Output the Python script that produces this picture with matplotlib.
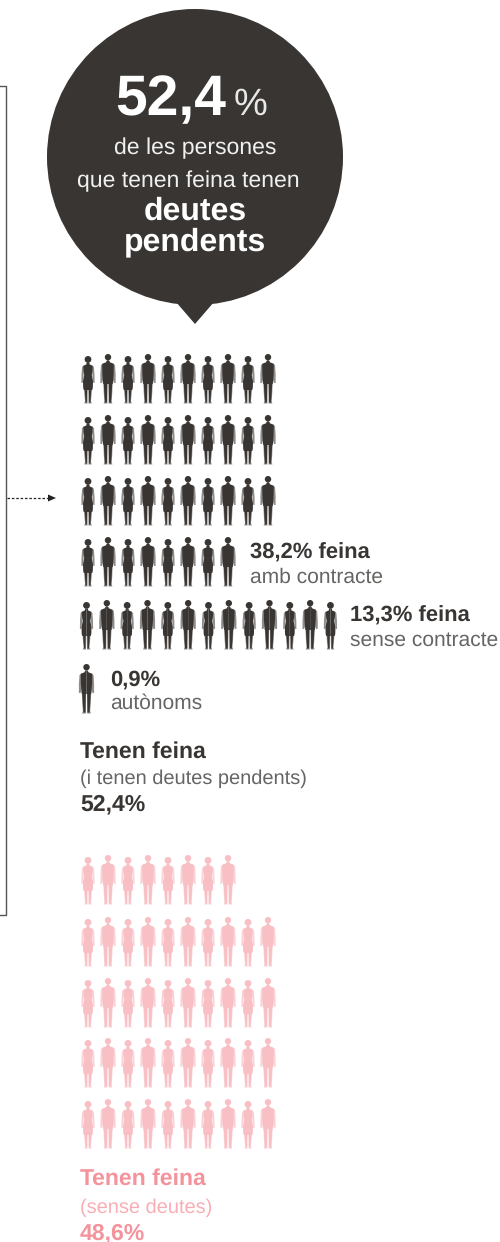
import numpy as np
import matplotlib
matplotlib.use('Agg')
import matplotlib.pyplot as plt
from matplotlib.patches import Circle, Polygon

plt.rcParams['font.family'] = ['Liberation Sans', 'DejaVu Sans']
plt.rcParams['text.hinting'] = 'no_hinting'
plt.rcParams['text.hinting_factor'] = 1

# people per row (1 figure = 1 %, roughly)
dark_rows = [10, 10, 10, 8]
sense_contracte = 13
autonoms = 1
pink_rows = [8, 10, 10, 10, 10]

dark = '#383532'
mid = '#8f8c8a'
grey = '#676563'
pink = '#f8bfc4'
pink_mid = '#fbd3d7'
pink_bold = '#f4939c'
pink_light = '#f9aeb5'

# half outlines (dx, dy from the top of the row), mirrored when drawn
man_body = [(0, 6), (1.6, 7), (1.8, 8.2), (5.8, 9.8), (5.6, 20), (5, 28), (4.6, 30), (0, 30)]
man_arm = [(5, 9.6), (7, 11), (7.6, 20), (7.6, 29), (6, 29), (5, 26)]
man_leg = [(0.4, 28), (4.7, 28), (4.2, 40), (3.6, 47), (4.4, 49.5), (0.6, 49.5)]
man_leg_core = [(0.8, 28), (4.3, 28), (3.6, 40), (3, 48.5), (1.1, 48.5)]
woman_body = [(0, 8), (1.5, 9), (1.6, 10.4), (4.8, 11.8), (4.4, 17), (3.8, 21), (5, 27), (4.8, 34), (4.2, 36), (0, 36)]
woman_arm = [(4.4, 11.6), (5.9, 13), (6.5, 21), (6.6, 29), (5.3, 29), (4.8, 25), (4, 17)]
woman_leg = [(0.3, 34), (4, 34), (3.5, 42), (2.9, 47), (3.8, 49.5), (0.5, 49.5)]
woman_leg_core = [(0.9, 34), (3.4, 34), (2.8, 42), (2.4, 48.5), (1.1, 48.5)]


def shape(ax, pts, x, top, col):
    ax.add_patch(Polygon([(x + dx, top + dy) for dx, dy in pts], fc=col, ec='none'))
    ax.add_patch(Polygon([(x - dx, top + dy) for dx, dy in pts], fc=col, ec='none'))


def person(ax, x, top, woman, col, col2):
    if woman:
        shape(ax, woman_arm, x, top, col2)
        shape(ax, woman_leg, x, top, col2)
        shape(ax, woman_leg_core, x, top, col)
        shape(ax, woman_body, x, top, col)
        ax.add_patch(Circle((x, top + 5.4), 3.4, fc=col, ec='none'))
    else:
        shape(ax, man_arm, x, top, col2)
        shape(ax, man_leg, x, top, col2)
        shape(ax, man_leg_core, x, top, col)
        shape(ax, man_body, x, top, col)
        ax.add_patch(Circle((x, top + 3.2), 3.2, fc=col, ec='none'))


def row(ax, n, x0, step, top, col, col2, start_man=False):
    for i in range(n):
        person(ax, x0 + i * step, top, (i % 2 == 0) != start_man, col, col2)


fig = plt.figure(figsize=(5, 12.42), dpi=100)
ax = fig.add_axes([0, 0, 1, 1])
ax.set_xlim(0, 500)
ax.set_ylim(1242, 0)
ax.axis('off')

# bubble
ax.add_patch(Circle((195, 157), 148, fc=dark, ec='none'))
ax.add_patch(Polygon([(176, 302), (214, 302), (195, 324)], fc=dark, ec='none'))

ax.text(115, 115, '52,4', color='white', fontsize=41, fontweight='bold', va='baseline')
ax.text(234, 115, '%', color='#e8e8e8', fontsize=27, va='baseline')
ax.text(195, 154, 'de les persones', color='#f0f0f0', fontsize=16.3, ha='center', va='baseline')
ax.text(188, 187, 'que tenen feina tenen', color='#f0f0f0', fontsize=16.3, ha='center', va='baseline')
ax.text(195, 220, 'deutes', color='white', fontsize=22.7, fontweight='bold', ha='center', va='baseline')
ax.text(195, 250, 'pendents', color='white', fontsize=22.7, fontweight='bold', ha='center', va='baseline')

# bracket on the left
ax.plot([0, 5.5, 5.5, 0], [85.5, 85.5, 914.5, 914.5], color='#555555', lw=1)

# dotted arrow
ax.plot([7, 48], [498, 498], color='#222222', lw=0.9, ls=(0, (2, 1.5)))
ax.add_patch(Polygon([(48, 494.5), (56, 498), (48, 501.5)], fc='#222222', ec='none'))

# dark people
for n, top in zip(dark_rows, [354, 415, 476, 537]):
    row(ax, n, 88, 20, top, dark, mid)
row(ax, sense_contracte, 86.5, 20.33, 600, dark, mid)
row(ax, autonoms, 86.5, 20, 664, dark, mid, start_man=True)

# pink people
for n, top in zip(pink_rows, [855, 917, 978, 1038, 1099]):
    row(ax, n, 88, 20, top, pink, pink_mid)

# labels
ax.text(250, 559, '38,2% feina', color=dark, fontsize=15.6, fontweight='bold', va='baseline')
ax.text(250, 583, 'amb contracte', color=grey, fontsize=15.2, va='baseline')
ax.text(350, 622, '13,3% feina', color=dark, fontsize=15.6, fontweight='bold', va='baseline')
ax.text(350, 646, 'sense contracte', color=grey, fontsize=15.1, va='baseline')
ax.text(110, 686, '0,9%', color=dark, fontsize=15.6, fontweight='bold', va='baseline')
ax.text(110, 709, 'autònoms', color=grey, fontsize=15.2, va='baseline')

ax.text(80, 758, 'Tenen feina', color=dark, fontsize=16.3, fontweight='bold', va='baseline')
ax.text(80, 784, '(i tenen deutes pendents)', color=grey, fontsize=14.4, va='baseline')
ax.text(80, 810, '52,4%', color=dark, fontsize=16.3, fontweight='bold', va='baseline')

ax.text(80, 1185, 'Tenen feina', color=pink_bold, fontsize=16.3, fontweight='bold', va='baseline')
ax.text(80, 1213, '(sense deutes)', color=pink_light, fontsize=14.4, va='baseline')
ax.text(80, 1239, '48,6%', color=pink_bold, fontsize=16.3, fontweight='bold', va='baseline')

plt.savefig('out.png', dpi=100)
